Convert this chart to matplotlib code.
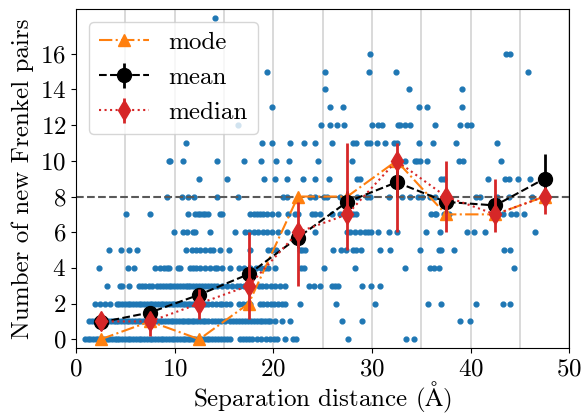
import numpy as np
import matplotlib
matplotlib.use("Agg")
import matplotlib.pyplot as plt

plt.rcParams['font.family'] = ['cmr10', 'DejaVu Serif']
plt.rcParams['mathtext.fontset'] = 'cm'
plt.rcParams['axes.formatter.use_mathtext'] = True
plt.rcParams['font.size'] = 18

# raw events: separation distance per number of new Frenkel pairs
sep_n0 = [0.9, 1.2, 1.4, 1.7, 2.0, 2.2, 2.5, 2.8, 3.1, 3.3, 3.6, 3.9, 4.2, 4.4, 4.7, 5.0,
          5.3, 5.5, 5.8, 6.1, 6.4, 6.6, 6.9, 7.2, 7.5, 7.7, 8.0, 8.3, 8.6, 8.8, 9.1, 9.4,
          9.7, 9.9, 10.2, 10.5, 10.8, 11.0, 11.3, 11.6, 11.9, 12.1, 12.4, 12.7, 13.0, 13.3,
          13.5, 13.8, 14.1, 14.4, 14.7, 15.0, 15.3, 15.6, 16.6, 16.9, 17.2, 17.5, 17.8,
          18.3, 18.8, 19.3, 19.7, 20.1, 20.4, 21.2, 22.0, 22.3, 27.6, 33.5, 34.3]
sep_n1 = [1.3, 1.6, 1.9, 2.1, 2.4, 2.7, 3.0, 3.2, 3.5, 3.8, 4.1, 4.3, 4.6, 4.9, 5.2, 5.4,
          5.7, 6.0, 6.3, 6.5, 6.8, 7.1, 7.4, 7.6, 7.9, 8.2, 8.5, 8.7, 9.0, 9.3, 9.6, 9.8,
          10.1, 10.4, 10.7, 10.9, 11.2, 11.5, 11.8, 12.0, 12.3, 12.6, 12.9, 13.1, 13.4,
          13.8, 14.1, 14.4, 14.7, 15.1, 15.6, 15.9, 16.2, 16.5, 16.8, 17.1, 17.4, 17.7,
          18.0, 18.3, 18.6, 18.9, 19.2, 19.5, 19.7, 20.2, 20.9, 21.7, 26.95, 28.96,
          38.95, 39.9]
sep_n2 = [1.96, 2.4, 2.9, 3.4, 4.15, 4.4, 4.7, 5.0, 5.3, 5.5, 5.8, 6.1, 6.4, 6.6, 6.9,
          7.2, 7.5, 7.7, 8.0, 8.3, 8.6, 8.8, 9.1, 9.4, 9.7, 9.9, 10.2, 10.5, 10.8, 11.0,
          11.3, 11.6, 11.9, 12.1, 12.4, 12.8, 13.1, 13.4, 13.8, 14.2, 14.6, 14.8, 15.2,
          15.6, 16.5, 16.9, 17.3, 17.65, 18.7, 19.0, 19.4, 19.8, 20.1, 20.5, 20.9, 21.2,
          22.7, 26.4, 30.3, 35.7, 37.0, 40.6, 43.3, 44.0]
sep_n3 = [3.1, 4.5, 4.7, 5.4, 6.35, 6.7, 7.0, 7.4, 7.7, 8.2, 8.5, 8.8, 9.1, 9.4, 9.6,
          9.9, 10.2, 10.5, 10.8, 11.1, 11.4, 11.6, 11.9, 12.2, 12.5, 12.8, 13.1, 13.4,
          13.7, 14.0, 14.3, 14.8, 15.3, 15.8, 16.3, 16.6, 17.0, 17.4, 17.8, 18.5, 18.9,
          19.3, 19.8, 20.2, 20.7, 21.2, 23.6, 24.1, 24.75, 25.9, 26.3, 26.6, 29.0, 29.9,
          30.8]
sep_n4 = [2.35, 5.3, 5.9, 8.0, 8.5, 8.9, 9.2, 9.4, 10.3, 10.55, 11.6, 11.9, 12.2, 12.6,
          13.1, 13.6, 14.1, 14.3, 14.8, 15.6, 16.5, 17.0, 17.65, 18.2, 18.8, 19.2, 19.5,
          20.2, 22.8, 23.1, 25.1, 28.3, 33.4, 35.9, 36.25, 36.75, 44.4]
sep_n5 = [3.3, 4.6, 5.4, 6.2, 11.1, 11.8, 12.2, 12.6, 13.1, 13.6, 13.9, 14.6, 15.5,
          17.65, 19.5, 19.85, 20.3, 22.7, 22.9, 23.2, 26.1, 26.85, 27.4, 28.1, 28.4,
          28.9, 30.8, 31.85, 34.9, 36.75, 37.0, 38.3, 43.4, 44.0]
sep_n6 = [9.9, 10.8, 11.2, 11.9, 12.1, 13.6, 16.1, 17.1, 17.5, 18.0, 18.4, 19.0, 19.35,
          19.85, 20.5, 21.4, 24.2, 27.45, 27.8, 28.3, 28.8, 29.3, 29.65, 29.9, 30.6,
          31.7, 32.5, 35.5, 36.9, 39.6, 40.3, 41.5, 46.5]
sep_n7 = [5.1, 7.5, 11.4, 12.1, 12.4, 12.6, 12.9, 13.1, 13.4, 14.6, 14.8, 17.65, 18.0,
          18.3, 18.7, 19.0, 19.35, 19.85, 20.5, 21.5, 22.2, 22.5, 23.9, 24.2, 24.75,
          26.0, 26.8, 27.45, 28.1, 28.4, 36.0, 36.4, 36.5, 37.3, 37.8, 43.3, 44.1, 44.6,
          45.4]
sep_n8 = [9.2, 10.7, 11.3, 12.0, 14.3, 16.4, 21.0, 21.4, 23.7, 24.2, 25.1, 25.4, 26.8,
          28.5, 29.5, 29.8, 31.7, 33.0, 33.9, 34.7, 35.1, 35.9, 36.4, 40.6, 41.0, 42.7,
          43.85, 46.2]
sep_n9 = [12.5, 15.35, 19.1, 20.2, 21.4, 23.0, 24.2, 25.6, 28.5, 28.8, 37.0, 37.3,
          41.75, 43.5, 43.85, 44.8, 46.0]
sep_n10 = [9.4, 9.55, 10.8, 14.3, 17.0, 18.8, 20.3, 21.6, 24.5, 28.0, 33.4, 34.4, 34.6,
           34.9, 35.6, 38.8, 39.2, 43.1]
sep_n11 = [11.1, 18.9, 19.9, 21.7, 23.1, 24.2, 25.9, 28.1, 28.4, 29.5, 29.8, 30.5, 31.3,
           32.2, 32.5, 34.8, 36.2, 38.5, 42.7]
sep_n12 = [16.4, 24.85, 25.7, 26.5, 27.2, 30.0, 30.6, 31.0, 32.6, 32.8, 33.4, 33.9, 36.4,
           38.9, 39.6, 40.0]
sep_n13 = [19.9, 25.7, 27.1, 34.8, 35.6, 39.1]
sep_n14 = [25.2, 33.8, 39.1]
sep_n15 = [19.4, 25.25, 29.7, 32.4, 45.8]
sep_n16 = [29.8, 43.6, 44.0]
sep_n18 = [14.1]

rows = {0: sep_n0, 1: sep_n1, 2: sep_n2, 3: sep_n3, 4: sep_n4, 5: sep_n5, 6: sep_n6,
        7: sep_n7, 8: sep_n8, 9: sep_n9, 10: sep_n10, 11: sep_n11, 12: sep_n12,
        13: sep_n13, 14: sep_n14, 15: sep_n15, 16: sep_n16, 18: sep_n18}

# binned statistics (5 A bins)
bin_centres = [2.5, 7.5, 12.5, 17.5, 22.5, 27.5, 32.5, 37.5, 42.5, 47.5]
mode_vals = [0, 1, 0, 2, 8, 8, 10, 7, 7, 8]
mean_vals = [0.95, 1.5, 2.5, 3.65, 5.7, 7.7, 8.8, 7.7, 7.5, 9.0]
mean_err = [0.3, 0.3, 0.4, 0.5, 0.6, 0.6, 0.8, 0.6, 0.6, 1.4]
median_vals = [1, 1, 2, 3, 6, 7, 10, 8, 7, 8]
median_lo = [0.5, 0.8, 0.85, 1.85, 3, 2, 4, 2, 1, 1]
median_hi = [0.5, 0.5, 0.8, 3, 1.7, 4, 1, 2, 2, 0.5]

xs = np.concatenate([rows[k] for k in rows])
ys = np.concatenate([[k] * len(rows[k]) for k in rows])

fig = plt.figure(figsize=(5.85, 4.17), dpi=100)
ax = fig.add_axes([0.130, 0.165, 0.843, 0.813])

ax.scatter(xs, ys, s=12, color='tab:blue', zorder=1)
ax.axhline(8, color='0.35', linestyle='--', lw=1.5, zorder=1.5)

ax.plot(bin_centres, mode_vals, '-.^', color='tab:orange', ms=9, lw=1.5,
        label='mode', zorder=3)
ax.errorbar(bin_centres, mean_vals, yerr=mean_err, fmt='--o', color='black', ms=10,
            lw=1.5, elinewidth=2, label='mean', zorder=4)
ax.errorbar(bin_centres, median_vals, yerr=[median_lo, median_hi], fmt=':d',
            color='tab:red', ms=10, lw=1.5, elinewidth=2, label='median', zorder=5)

ax.set_xlim(0, 50)
ax.set_ylim(-0.5, 18.5)
ax.set_xticks(np.arange(0, 51, 10))
ax.set_xticks(np.arange(5, 50, 5), minor=True)
ax.set_yticks(np.arange(0, 17, 2))
ax.tick_params(which='minor', length=0)
ax.grid(axis='x', which='both', color='lightgrey', lw=1.2, zorder=0)
ax.set_axisbelow(True)

ax.set_xlabel(r'Separation distance ($\mathrm{\AA}$)', labelpad=0)
ax.set_ylabel('Number of new Frenkel pairs')
ax.legend(loc='upper left')

fig.savefig('out.png', dpi=100)
